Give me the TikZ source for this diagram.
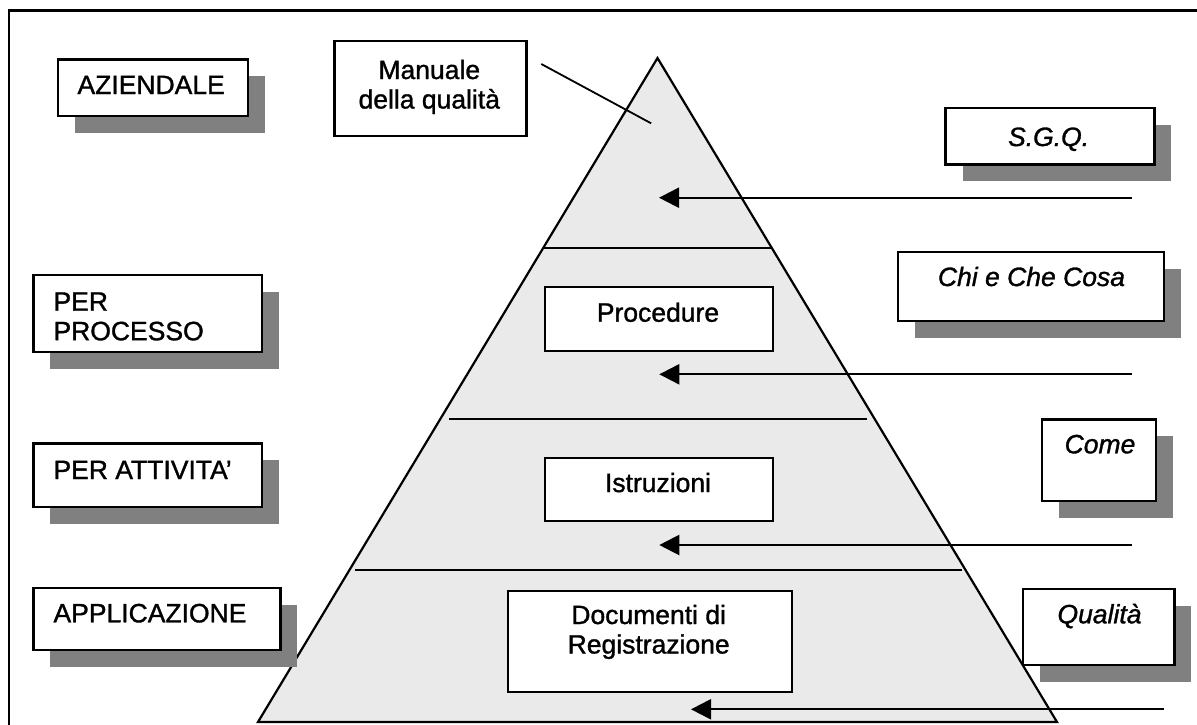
\documentclass[tikz,border=0pt]{standalone}
\usepackage{fontspec}
\setmainfont[FakeBold=1.2]{Liberation Sans}
\usetikzlibrary{arrows.meta}
\definecolor{shadegray}{RGB}{128,128,128}
\definecolor{pyrfill}{RGB}{234,234,234}
% two stacked lines whose baseline is the first line
\newcommand\stackc[2]{\vtop{\baselineskip=29.5pt\halign{\hfil##\hfil\cr#1\cr#2\cr}}}
\newcommand\stackl[2]{\vtop{\baselineskip=29.5pt\hbox{#1}\hbox{#2}}}
\begin{document}
\begin{tikzpicture}[x=1pt,y=-1pt,
  boxbase/.style={draw=black, fill=white, line width=2.2pt, inner sep=0pt, anchor=north west},
  plainbox/.style={boxbase},
  shadowbox/.style={boxbase, preaction={fill=shadegray, transform canvas={xshift=17pt,yshift=-17pt}}},
  lbl/.style={font=\fontsize{26.5}{29.5}\selectfont, inner sep=0pt},
  ilbl/.style={font=\fontsize{26.5}{29.5}\selectfont\itshape, inner sep=0pt},
  rule/.style={line width=2.2pt},
  arr/.style={line width=2.2pt, -{Triangle[length=20pt,width=20pt]}}]
\useasboundingbox (0,0) rectangle (1197,724);

% frame
\draw[line width=2.6pt] (9,726) -- (9,10.7) -- (1199,10.7);

% pyramid and its levels
\filldraw[fill=pyrfill, line width=2.2pt] (258,722) -- (657.5,58) -- (1057,722) -- cycle;
\draw[rule] (543.2,248) -- (771.8,248);
\draw[rule] (449.3,419) -- (866.7,419);
\draw[rule] (355,570) -- (961.7,570);

% documents inside the pyramid
\node[plainbox, minimum width=192pt, minimum height=95pt] (man) at (333.3,40) {};
\node[plainbox, minimum width=228pt, minimum height=64pt] (proc) at (544,286) {};
\node[plainbox, minimum width=228pt, minimum height=63.3pt] (istr) at (544,456.7) {};
\node[plainbox, minimum width=284pt, minimum height=100.7pt] (doc) at (506.7,590) {};
\node[lbl, anchor=base] (manT) at (429.3,79) {\stackc{Manuale}{della qualità}};
\node[lbl, anchor=base] (procT) at (658,321.7) {Procedure};
\node[lbl, anchor=base] (istrT) at (658,492) {Istruzioni};
\node[lbl, anchor=base] (docT) at (648.7,624) {\stackc{Documenti di}{Registrazione}};

% pointer from the manual into the top level
\coordinate (manA) at (541.3,64);
\coordinate (manB) at (651.1,123.3);
\draw[line width=1.8pt] (manA) -- (manB);

% arrows into each level
\coordinate (s1) at (1132,197.7);   \coordinate (e1) at (659,197.7);
\coordinate (s2) at (1131.7,374.3); \coordinate (e2) at (659.3,374.3);
\coordinate (s3) at (1131.7,545);   \coordinate (e3) at (659.3,545);
\coordinate (s4) at (1164,709.3);   \coordinate (e4) at (691,709.3);
\draw[arr] (s1) -- (e1);
\draw[arr] (s2) -- (e2);
\draw[arr] (s3) -- (e3);
\draw[arr] (s4) -- (e4);

% levels on the left
\node[shadowbox, minimum width=190.3pt, minimum height=56.7pt] (az) at (56.7,58.3) {};
\node[shadowbox, minimum width=228.4pt, minimum height=77pt] (pp) at (32.3,274) {};
\node[shadowbox, minimum width=228.4pt, minimum height=63.4pt] (pa) at (32.3,442.3) {};
\node[shadowbox, minimum width=247pt, minimum height=62.3pt] (ap) at (32.3,586.7) {};
\node[lbl, anchor=base west] (azT) at (77.3,94) {AZIENDALE};
\node[lbl, anchor=base west] (ppT) at (53.3,310.7) {\stackl{PER}{PROCESSO}};
\node[lbl, anchor=base west] (paT) at (53.3,479) {PER ATTIVITA’};
\node[lbl, anchor=base west] (apT) at (53.3,622.3) {APPLICAZIONE};

% meanings on the right
\node[shadowbox, minimum width=208.9pt, minimum height=56.6pt] (sgq) at (944.4,106.7) {};
\node[shadowbox, minimum width=266pt, minimum height=69pt] (chi) at (896.7,251) {};
\node[shadowbox, minimum width=114.3pt, minimum height=81.7pt] (come) at (1040.7,418.3) {};
\node[shadowbox, minimum width=151.6pt, minimum height=76.3pt] (qual) at (1021.7,587.7) {};
\node[ilbl, anchor=base] (sgqT) at (1048.6,146) {S.G.Q.};
\node[ilbl, anchor=base] (chiT) at (1031.5,286) {Chi e Che Cosa};
\node[ilbl, anchor=base] (comeT) at (1100,453.3) {Come};
\node[ilbl, anchor=base] (qualT) at (1099.5,623.3) {Qualità};
\end{tikzpicture}
\end{document}
